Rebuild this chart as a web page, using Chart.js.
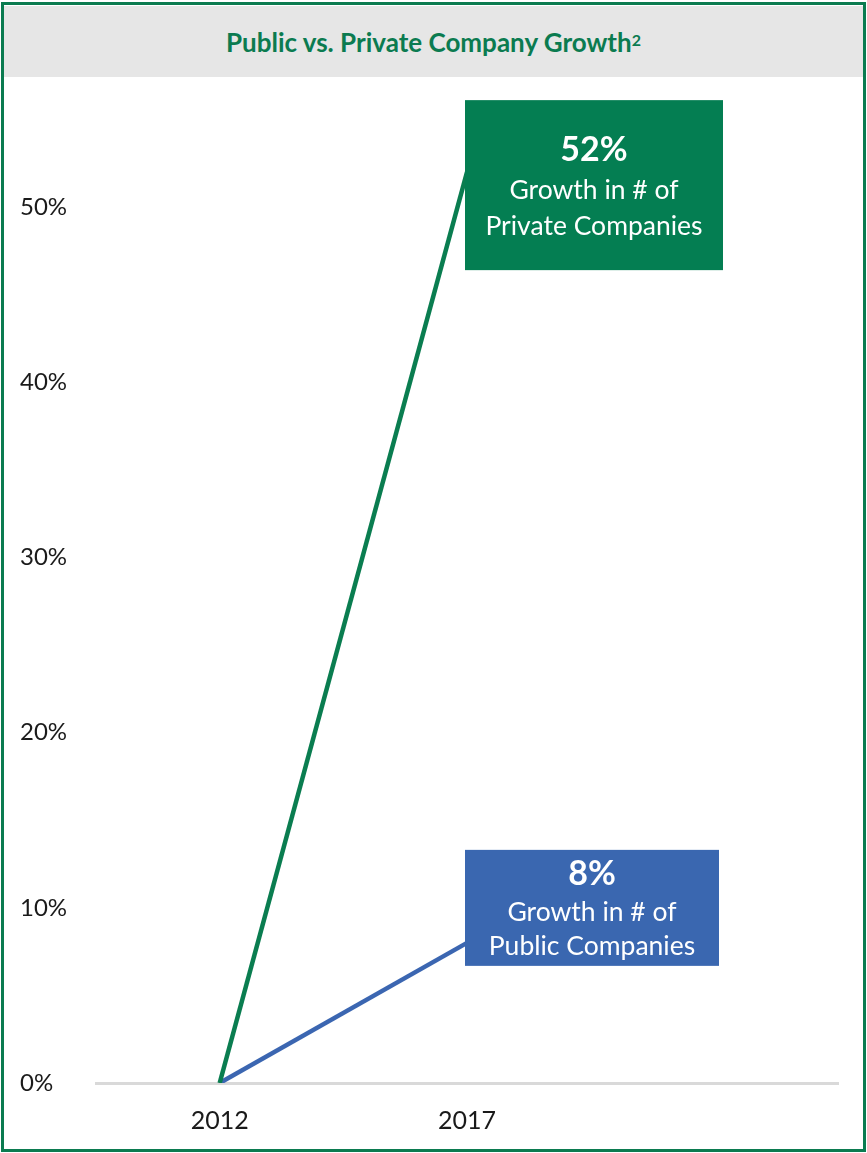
<!DOCTYPE html>
<html>
<head>
<meta charset="utf-8">
<script src="https://cdn.jsdelivr.net/npm/chart.js@4.4.1/dist/chart.umd.min.js"></script>
<style>
  html, body { margin: 0; padding: 0; background: #fff; }
  body { width: 867px; height: 1153px; position: relative; overflow: hidden; }
  #frame { position: absolute; left: 1px; top: 2px; width: 865px; height: 1150px; box-sizing: border-box; border: 3px solid #0b7b50; z-index: 3; pointer-events: none; }
  #title { position: absolute; left: 4px; top: 6px; width: 859px; height: 71px; background: #e6e6e6; z-index: 2;
    display: flex; align-items: center; justify-content: center;
    font-family: Lato, "Open Sans", sans-serif; font-weight: bold; font-size: 26px; color: #0b7b50; }
  #title sup { font-size: 16px; position: relative; top: -2px; }
  #wrap { position: absolute; left: 0; top: 0; width: 867px; height: 1153px; z-index: 1; }
</style>
</head>
<body>
<div id="wrap"><canvas id="c" width="867" height="1153"></canvas></div>
<div id="title">Public vs. Private Company Growth<sup>2</sup></div>
<div id="frame"></div>
<script>
const categories = ['2012', '2017', ''];
const privateGrowth = [0, 0.52, null];
const publicGrowth = [0, 0.08, null];
const yTicks = [0, 0.1, 0.2, 0.3, 0.4, 0.5];

const annotations = [
  { dataset: 0, index: 1, color: '#047e52', big: '52%', lines: ['Growth in # of', 'Private Companies'], up: 72, down: 98, width: 258 },
  { dataset: 1, index: 1, color: '#3a67b0', big: '8%', lines: ['Growth in # of', 'Public Companies'], up: 93, down: 23, width: 254 }
];

const boxPlugin = {
  id: 'boxes',
  afterDatasetsDraw(chart) {
    const ctx = chart.ctx;
    annotations.forEach(a => {
      const meta = chart.getDatasetMeta(a.dataset);
      const pt = meta.data[a.index];
      const x0 = pt.x - 2, y0 = pt.y - a.up;
      const h = a.up + a.down;
      ctx.save();
      ctx.fillStyle = a.color;
      ctx.fillRect(x0, y0, a.width, h);
      ctx.fillStyle = '#ffffff';
      ctx.textAlign = 'center';
      ctx.textBaseline = 'middle';
      const cx = x0 + a.width / 2;
      ctx.font = 'bold 34px Lato, "Open Sans", sans-serif';
      const isPriv = a.dataset === 0;
      ctx.fillText(a.big, cx, y0 + (isPriv ? 50 : 24));
      ctx.font = '26.5px Lato, "Open Sans", sans-serif';
      ctx.fillText(a.lines[0], cx, y0 + (isPriv ? 90 : 63));
      ctx.fillText(a.lines[1], cx, y0 + (isPriv ? 126 : 97));
      ctx.restore();
    });
  }
};

new Chart(document.getElementById('c'), {
  type: 'line',
  data: {
    labels: categories,
    datasets: [
      { label: 'Private', data: privateGrowth, borderColor: '#0a7d50', borderWidth: 4.5, pointRadius: 0, tension: 0 },
      { label: 'Public', data: publicGrowth, borderColor: '#3b66b1', borderWidth: 4.5, pointRadius: 0, tension: 0 }
    ]
  },
  options: {
    responsive: false,
    animation: false,
    layout: { padding: { left: 20, right: 29, top: 32, bottom: 0 } },
    plugins: { legend: { display: false }, tooltip: { enabled: false } },
    scales: {
      x: {
        offset: true,
        grid: { display: false, drawTicks: false },
        border: { display: true, color: '#d9d9d9', width: 3 },
        ticks: { color: '#1a1a1a', font: { family: 'Lato, "Open Sans", sans-serif', size: 25 }, padding: 23, maxRotation: 0 },
        afterFit(s) { s.height = 70; }
      },
      y: {
        min: 0, max: 0.6,
        grid: { display: false, drawTicks: false },
        border: { display: false },
        afterBuildTicks(s) { s.ticks = yTicks.map(v => ({ value: v })); },
        ticks: {
          crossAlign: 'far',
          color: '#1a1a1a',
          font: { family: 'Lato, "Open Sans", sans-serif', size: 24 },
          callback: v => Math.round(v * 100) + '%'
        },
        afterFit(s) { s.width = 76; }
      }
    }
  },
  plugins: [boxPlugin]
});
</script>
</body>
</html>
